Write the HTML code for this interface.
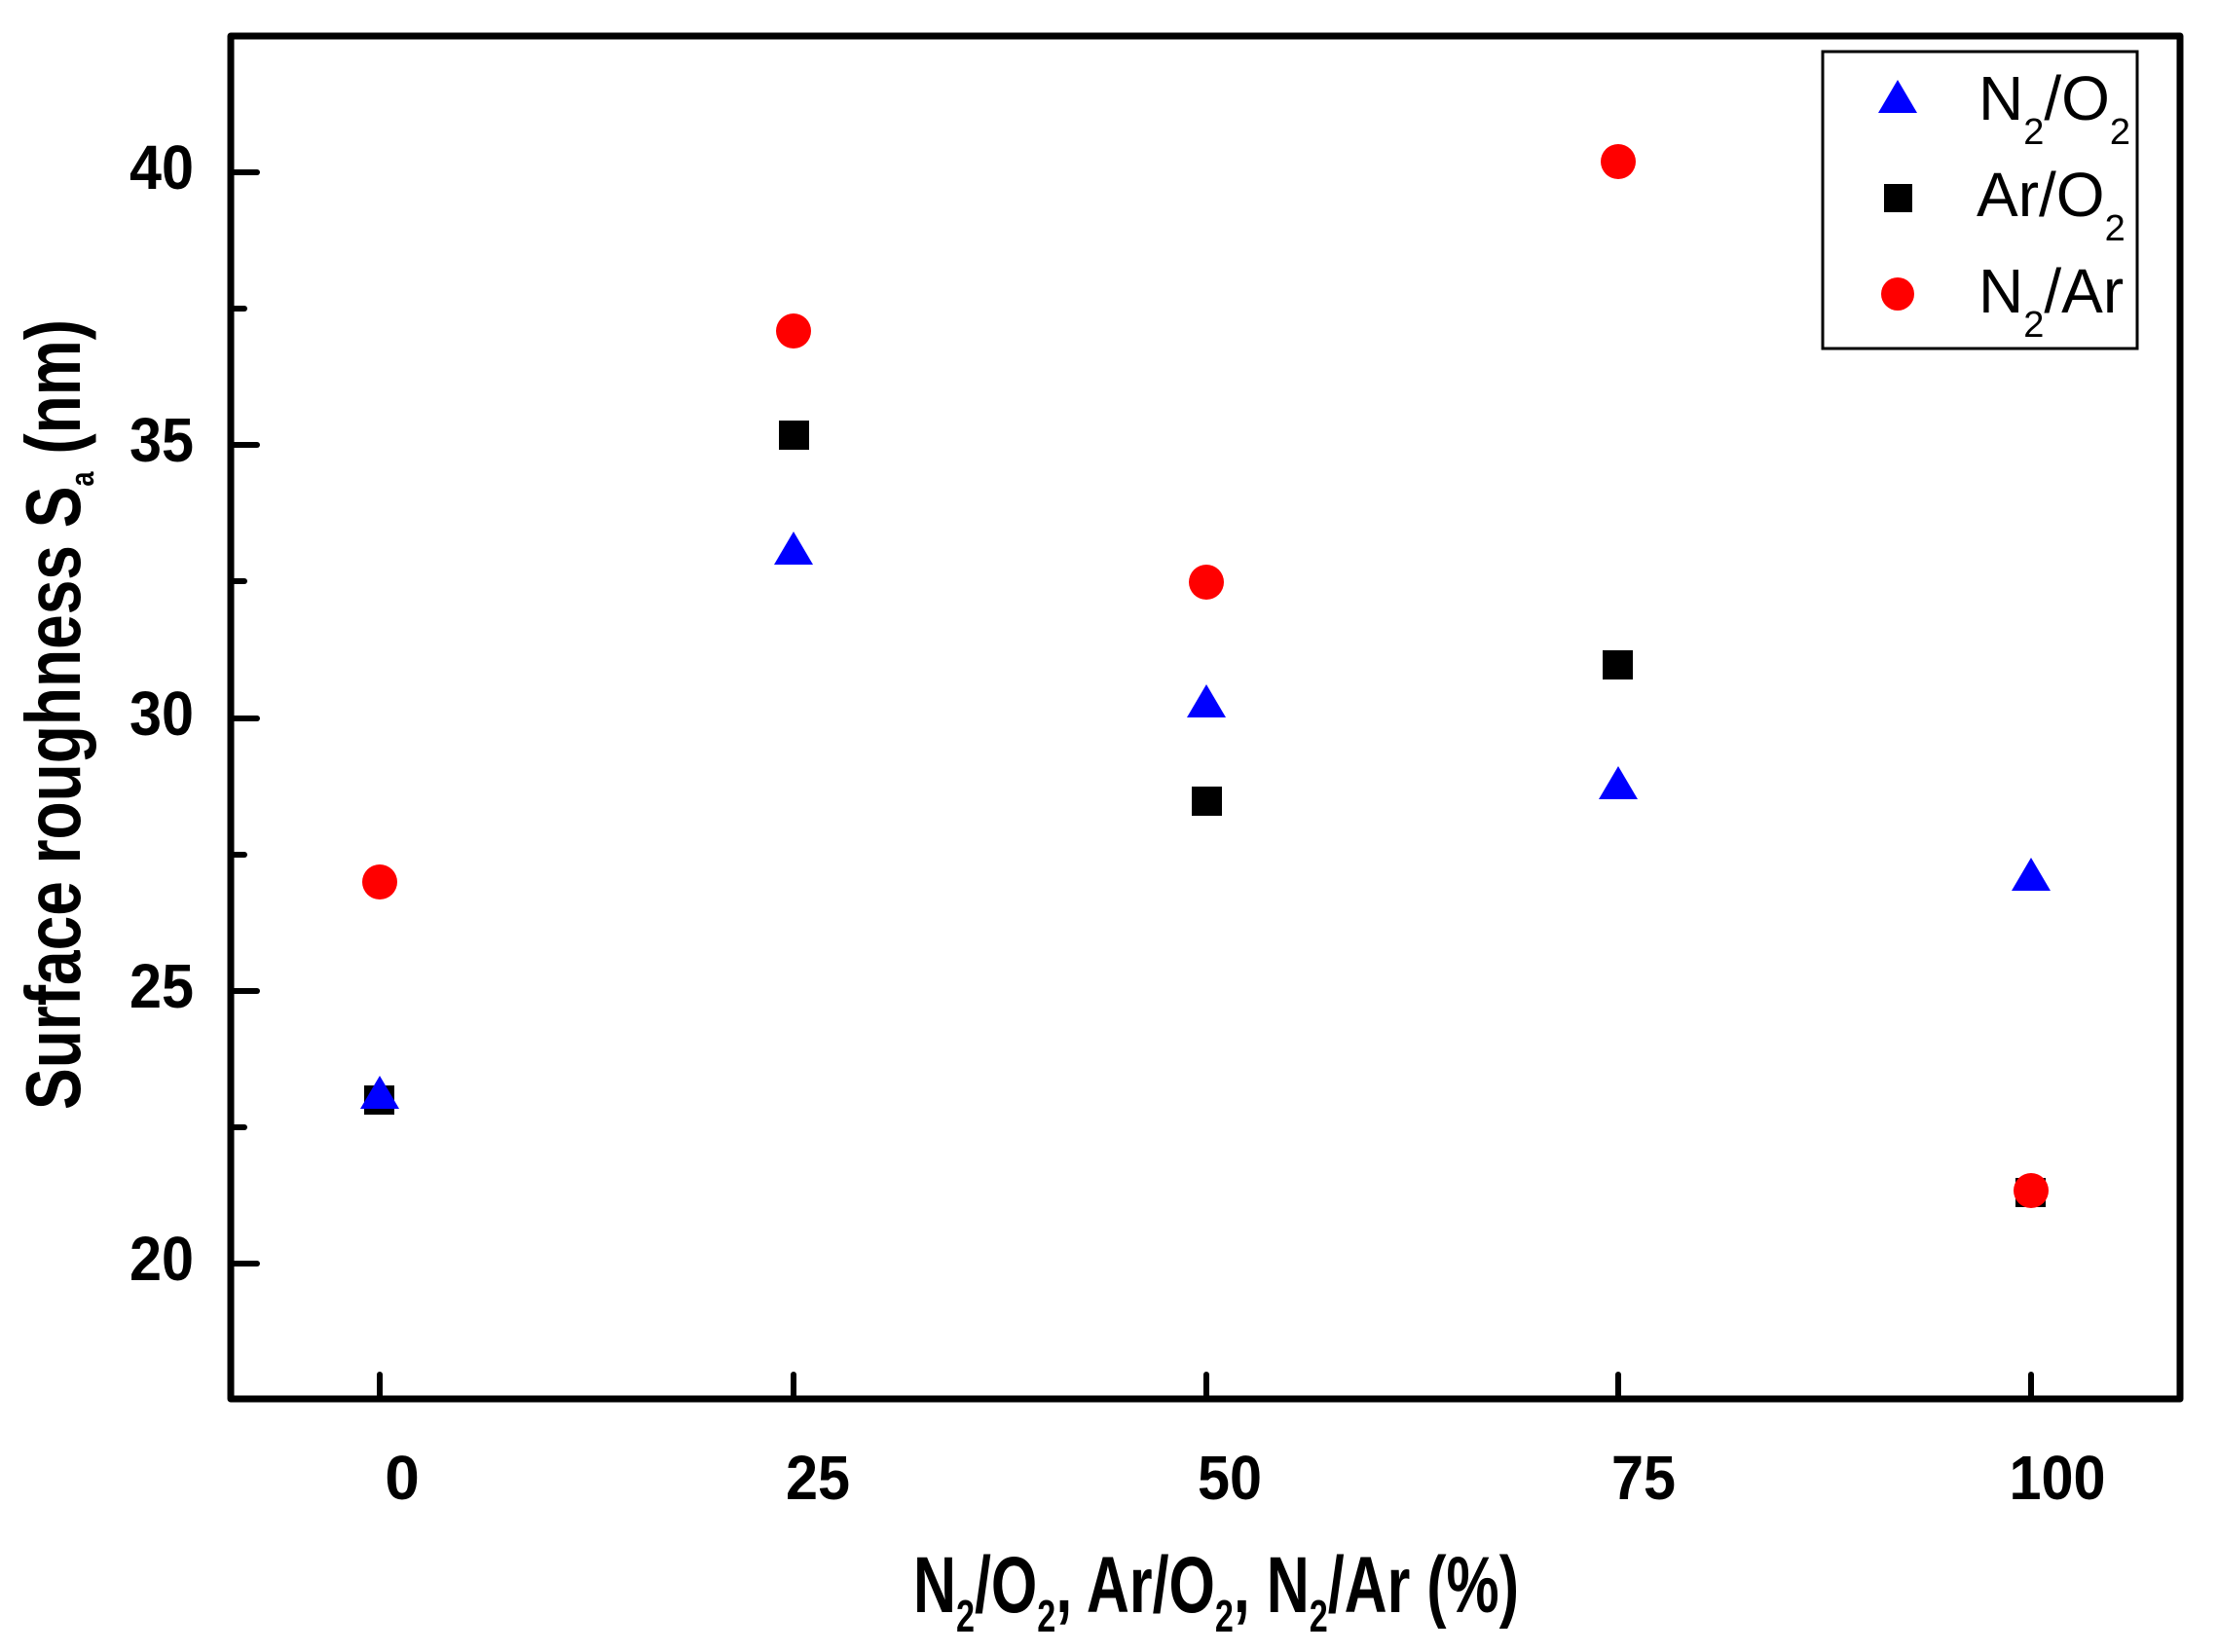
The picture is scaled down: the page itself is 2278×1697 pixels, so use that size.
<!DOCTYPE html>
<html><head><meta charset="utf-8"><style>html,body{margin:0;padding:0;background:#fff}svg{display:block}</style></head>
<body>
<svg width="2278" height="1697" viewBox="0 0 2278 1697" xmlns="http://www.w3.org/2000/svg" font-family="Liberation Sans, Arial, sans-serif">
<rect width="2278" height="1697" fill="#fff"/>
<rect x="237" y="37" width="2002" height="1400" fill="none" stroke="#000" stroke-width="7" stroke-linejoin="round"/>
<g stroke="#000" stroke-width="6" stroke-linecap="round">
<line x1="237" y1="177" x2="264" y2="177"/>
<line x1="237" y1="457" x2="264" y2="457"/>
<line x1="237" y1="738" x2="264" y2="738"/>
<line x1="237" y1="1018" x2="264" y2="1018"/>
<line x1="237" y1="1298" x2="264" y2="1298"/>
<line x1="237" y1="317" x2="251" y2="317"/>
<line x1="237" y1="597" x2="251" y2="597"/>
<line x1="237" y1="878" x2="251" y2="878"/>
<line x1="237" y1="1158" x2="251" y2="1158"/>
<line x1="390" y1="1437" x2="390" y2="1412"/>
<line x1="815" y1="1437" x2="815" y2="1412"/>
<line x1="1239" y1="1437" x2="1239" y2="1412"/>
<line x1="1662" y1="1437" x2="1662" y2="1412"/>
<line x1="2086" y1="1437" x2="2086" y2="1412"/>
</g>
<g font-weight="bold" font-size="64" text-anchor="end">
<text x="199" y="194" textLength="66" lengthAdjust="spacingAndGlyphs">40</text>
<text x="199" y="474" textLength="66" lengthAdjust="spacingAndGlyphs">35</text>
<text x="199" y="755" textLength="66" lengthAdjust="spacingAndGlyphs">30</text>
<text x="199" y="1035" textLength="66" lengthAdjust="spacingAndGlyphs">25</text>
<text x="199" y="1315" textLength="66" lengthAdjust="spacingAndGlyphs">20</text>
</g>
<g font-weight="bold" font-size="64" text-anchor="middle">
<text x="413" y="1540">0</text>
<text x="840" y="1540" textLength="66" lengthAdjust="spacingAndGlyphs">25</text>
<text x="1263" y="1540" textLength="66" lengthAdjust="spacingAndGlyphs">50</text>
<text x="1688" y="1540" textLength="66" lengthAdjust="spacingAndGlyphs">75</text>
<text x="2113" y="1540" textLength="99" lengthAdjust="spacingAndGlyphs">100</text>
</g>
<text x="938" y="1656" font-weight="bold" font-size="82" textLength="622" lengthAdjust="spacingAndGlyphs">N<tspan font-size="46" dy="20">2</tspan><tspan dy="-20">/O</tspan><tspan font-size="46" dy="20">2</tspan><tspan dy="-20">, Ar/O</tspan><tspan font-size="46" dy="20">2</tspan><tspan dy="-20">, N</tspan><tspan font-size="46" dy="20">2</tspan><tspan dy="-20">/Ar (%)</tspan></text>
<text transform="translate(82,1140) rotate(-90)" x="0" y="0" font-weight="bold" font-size="80" textLength="812" lengthAdjust="spacingAndGlyphs">Surface roughness S<tspan font-size="34" dy="14">a</tspan><tspan dy="-14">  (nm)</tspan></text>
<g fill="#000">
<rect x="374" y="1115" width="31" height="30"/>
<rect x="800" y="432" width="31" height="30"/>
<rect x="1224" y="808" width="31" height="30"/>
<rect x="1646" y="668" width="31" height="30"/>
<rect x="2070" y="1210" width="31" height="30"/>
</g>
<g fill="#0000ff">
<polygon points="390,1105 370,1139 410,1139"/>
<polygon points="815,546 795,580 835,580"/>
<polygon points="1239,703 1219,737 1259,737"/>
<polygon points="1662,787 1642,821 1682,821"/>
<polygon points="2086,881 2066,915 2106,915"/>
</g>
<g fill="#ff0000">
<circle cx="390" cy="906" r="18"/>
<circle cx="815" cy="340" r="18"/>
<circle cx="1239" cy="598" r="18"/>
<circle cx="1662" cy="166" r="18"/>
<circle cx="2086" cy="1223" r="18"/>
</g>
<rect x="1872" y="53" width="323" height="305" fill="#fff" stroke="#000" stroke-width="3"/>
<polygon points="1949,82 1929,116 1969,116" fill="#0000ff"/>
<rect x="1935" y="189" width="29" height="29" fill="#000"/>
<circle cx="1949" cy="302" r="17" fill="#ff0000"/>
<g font-size="64" fill="#000">
<text x="2032" y="123">N<tspan font-size="38" dy="25">2</tspan><tspan dy="-25">/O</tspan><tspan font-size="38" dy="25">2</tspan></text>
<text x="2030" y="222">Ar/O<tspan font-size="38" dy="25">2</tspan></text>
<text x="2032" y="321">N<tspan font-size="38" dy="25">2</tspan><tspan dy="-25">/Ar</tspan></text>
</g>
</svg>
</body></html>
